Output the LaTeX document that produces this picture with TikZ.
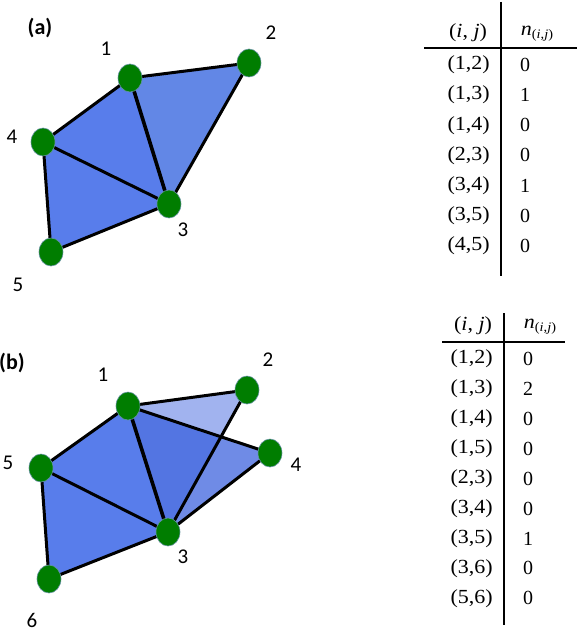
\documentclass[tikz,border=0pt]{standalone}
\usepackage{fontspec}
\usetikzlibrary{shapes.geometric}
\setmainfont{Liberation Serif}
\newfontfamily\labfont{Carlito}
\definecolor{triblue}{RGB}{50,90,220}
\definecolor{triA}{RGB}{88,125,235}
\definecolor{triB}{RGB}{98,135,230}
\definecolor{nodegreen}{RGB}{0,125,0}
\tikzset{
  vert/.style={ellipse, fill=nodegreen, draw=nodegreen!60!blue!60, line width=0.6pt, minimum width=24pt, minimum height=28pt, inner sep=0pt},
  edge/.style={line width=3pt, black, line cap=round},
  thickedge/.style={line width=3.6pt, black, line cap=round},
  lab/.style={font=\labfont\fontsize{21}{23}\selectfont, inner sep=0pt},
  plab/.style={font=\labfont\bfseries\fontsize{22}{24}\selectfont, inner sep=0pt},
  cell/.style={font=\fontsize{20}{22}\selectfont, inner sep=0pt},
  rule/.style={line width=2.6pt, black},
}
\newcommand{\cellij}{\scalebox{1.1}[1]{(\textit{i}, \textit{j})}}
\newcommand{\celln}{\scalebox{1.1}[1]{\textit{n}\raisebox{-0.35ex}{\fontsize{13}{13}\selectfont(\textit{i},\textit{j})}}}
\newcommand{\cellp}[1]{\scalebox{1.1}[1]{#1}}
\begin{document}
\begin{tikzpicture}[x=1pt,y=-1pt]
\useasboundingbox (0,0) rectangle (581,631);
% ---------- panel (a) ----------
\coordinate (a1) at (130,78);
\coordinate (a2) at (249,63);
\coordinate (a3) at (169,204);
\coordinate (a4) at (43,142);
\coordinate (a5) at (51,252);
\fill[triB] (a1) -- (a2) -- (a3) -- cycle;
\fill[triA] (a1) -- (a4) -- (a3) -- cycle;
\fill[triA] (a4) -- (a5) -- (a3) -- cycle;
\draw[edge] (a1) -- (a2);
\draw[edge] (a2) -- (a3);
\draw[thickedge] (a1) -- (a3);
\draw[edge] (a1) -- (a4);
\draw[edge] (a4) -- (a3);
\draw[edge] (a4) -- (a5);
\draw[edge] (a5) -- (a3);
\foreach \n in {1,...,5} {\node[vert] (va\n) at (a\n) {};}
\node[plab] (pa) at (40,28) {(a)};
\node[lab] (la1) at (106,49) {1};
\node[lab] (la2) at (271,33) {2};
\node[lab] (la3) at (183,230) {3};
\node[lab] (la4) at (12,137) {4};
\node[lab] (la5) at (18,285) {5};
% ---------- panel (b) ----------
\coordinate (b1) at (128,406);
\coordinate (b2) at (247,390);
\coordinate (b3) at (168,532);
\coordinate (b4) at (270,453);
\coordinate (b5) at (41,468);
\coordinate (b6) at (49,579);
\fill[triA] (b1) -- (b5) -- (b3) -- cycle;
\fill[triA] (b5) -- (b6) -- (b3) -- cycle;
\fill[triblue, fill opacity=0.7] (b1) -- (b3) -- (b4) -- cycle;
\fill[triblue, fill opacity=0.46] (b1) -- (b2) -- (b3) -- cycle;
\draw[edge] (b1) -- (b2);
\draw[edge] (b2) -- (b3);
\draw[edge] (b1) -- (b4);
\draw[edge] (b4) -- (b3);
\draw[thickedge] (b1) -- (b3);
\draw[edge] (b1) -- (b5);
\draw[edge] (b5) -- (b3);
\draw[edge] (b5) -- (b6);
\draw[edge] (b6) -- (b3);
\foreach \n in {1,...,6} {\node[vert] (vb\n) at (b\n) {};}
\node[plab] (pb) at (12,363) {(b)};
\node[lab] (lb1) at (103,375) {1};
\node[lab] (lb2) at (268,360) {2};
\node[lab] (lb3) at (183,557) {3};
\node[lab] (lb4) at (296,465) {4};
\node[lab] (lb5) at (8,463) {5};
\node[lab] (lb6) at (32,620) {6};
% ---------- table (a) ----------
\coordinate (ta) at (501,2);
\coordinate (tb) at (501,276);
\coordinate (tl) at (424,48);
\coordinate (tr) at (577,48);
\draw[rule] (ta) -- (tb);
\draw[rule] (tl) -- (tr);
\node[cell] (hai) at (468,33) {\cellij};
\node[cell] (han) at (537,34) {\celln};
\foreach \p/\v [count=\k from 0] in {(1,2)/0,(1,3)/1,(1,4)/0,(2,3)/0,(3,4)/1,(3,5)/0,(4,5)/0} {
  \node[cell, anchor=east] (ra\k) at (490,65+30.1*\k) {\cellp{\p}};
  \node[cell] (wa\k) at (525,65+30.1*\k) {\v};
}
% ---------- table (b) ----------
\coordinate (ua) at (504,313);
\coordinate (ub) at (504,625);
\coordinate (ul) at (442,342);
\coordinate (ur) at (565,342);
\draw[rule] (ua) -- (ub);
\draw[rule] (ul) -- (ur);
\node[cell] (hbi) at (473,326) {\cellij};
\node[cell] (hbn) at (540,327) {\celln};
\foreach \p/\v [count=\k from 0] in {(1,2)/0,(1,3)/2,(1,4)/0,(1,5)/0,(2,3)/0,(3,4)/0,(3,5)/1,(3,6)/0,(5,6)/0} {
  \node[cell, anchor=east] (rb\k) at (493,359+29.9*\k) {\cellp{\p}};
  \node[cell] (wb\k) at (528,359+29.9*\k) {\v};
}
\end{tikzpicture}
\end{document}
